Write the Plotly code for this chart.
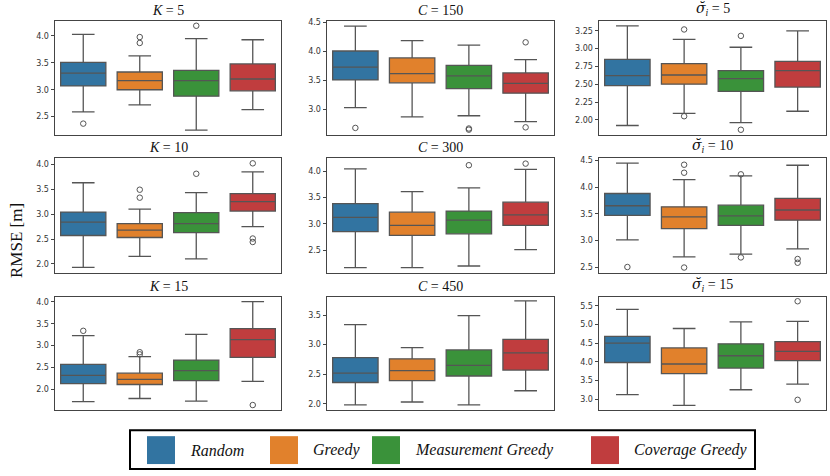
import plotly.graph_objects as go

W, H = 830, 476

METHODS = ["Random", "Greedy", "Measurement Greedy", "Coverage Greedy"]
COLORS = ["#3274a1", "#e1812c", "#3a923a", "#c03d3e"]

SIG = '<span style="font-family:DejaVu Serif"><i>σ\u0306</i></span><sub><i>i</i></sub>'
TITLES = ["<i>K</i> = 5", "<i>C</i> = 150", SIG + " = 5",
          "<i>K</i> = 10", "<i>C</i> = 300", SIG + " = 10",
          "<i>K</i> = 15", "<i>C</i> = 450", SIG + " = 15"]

# per panel (row-major), per method
LOWER = [[2.59, 2.72, 2.25, 2.63], [3.03, 2.87, 2.89, 2.79], [1.92, 2.09, 1.96, 2.12],
         [1.93, 2.15, 2.10, 2.75], [2.17, 2.17, 2.20, 2.51], [3.01, 2.69, 2.74, 2.84],
         [1.72, 1.79, 1.73, 2.18], [1.98, 2.03, 1.98, 2.22], [3.12, 2.83, 3.25, 3.40]]
Q1 = [[3.07, 3.00, 2.88, 2.98], [3.51, 3.46, 3.36, 3.28], [2.48, 2.50, 2.40, 2.46],
      [2.57, 2.53, 2.63, 3.06], [2.85, 2.78, 2.81, 2.97], [3.47, 3.22, 3.28, 3.38],
      [2.13, 2.11, 2.20, 2.73], [2.36, 2.39, 2.47, 2.57], [3.98, 3.68, 3.83, 4.03]]
MEDIAN = [[3.31, 3.17, 3.17, 3.20], [3.73, 3.62, 3.58, 3.45], [2.62, 2.63, 2.58, 2.69],
          [2.84, 2.68, 2.81, 3.25], [3.12, 2.97, 3.07, 3.17], [3.65, 3.44, 3.46, 3.57],
          [2.32, 2.23, 2.43, 3.14], [2.52, 2.56, 2.65, 2.86], [4.50, 3.94, 4.16, 4.28]]
Q3 = [[3.51, 3.33, 3.36, 3.48], [4.01, 3.89, 3.76, 3.63], [2.85, 2.79, 2.69, 2.82],
      [3.04, 2.81, 3.03, 3.41], [3.38, 3.22, 3.24, 3.41], [3.88, 3.63, 3.66, 3.79],
      [2.57, 2.37, 2.67, 3.39], [2.78, 2.76, 2.91, 3.09], [4.68, 4.37, 4.48, 4.54]]
UPPER = [[4.03, 3.63, 3.95, 3.93], [4.44, 4.19, 4.11, 3.86], [3.32, 3.13, 3.02, 3.25],
         [3.63, 3.10, 3.43, 3.85], [4.04, 3.61, 3.68, 4.03], [4.45, 4.14, 4.21, 4.41],
         [3.23, 2.75, 3.26, 4.01], [3.34, 2.95, 3.49, 3.74], [5.40, 4.89, 5.07, 5.08]]
OUTLIERS = [[[2.37], [3.98, 3.87], [4.19], []],
            [[2.68], [], [2.67, 2.65], [4.16, 2.69]],
            [[], [3.27, 2.05], [3.18, 1.86], []],
            [[], [3.49, 3.33], [3.81], [4.02, 2.51, 2.44]],
            [[], [], [4.11], [4.14]],
            [[2.50], [4.42, 4.27, 2.49], [4.24, 2.68], [2.65, 2.58]],
            [[3.34], [2.85, 2.80], [], [1.64]],
            [[], [], [], []],
            [[], [], [], [5.62, 2.98]]]

Y_RANGES = [[2.15, 4.28], [2.55, 4.53], [1.78, 3.39],
            [1.82, 4.12], [2.07, 4.24], [2.39, 4.54],
            [1.52, 4.12], [1.89, 3.81], [2.70, 5.74]]
Y_DTICK = [0.5, 0.5, 0.25, 0.5, 0.5, 0.5, 0.5, 0.5, 0.5]
Y_FMT = [".1f", ".1f", ".2f", ".1f", ".1f", ".1f", ".1f", ".1f", ".1f"]

COL_PX = [(55, 281), (327, 554), (599, 826)]
ROW_PX = [(19, 134), (157, 272), (296, 410)]

LINE = "#555555"
SERIF = "Liberation Serif, DejaVu Serif, serif"

fig = go.Figure()
layout = dict(width=W, height=H, margin=dict(l=0, r=0, t=0, b=0),
              paper_bgcolor="white", plot_bgcolor="white", showlegend=False,
              boxmode="overlay", annotations=[], shapes=[])

for p in range(9):
    r, c = divmod(p, 3)
    idx = "" if p == 0 else str(p + 1)
    xa, ya = "x" + idx, "y" + idx
    for m in range(4):
        fig.add_trace(go.Box(
            x=[m], q1=[Q1[p][m]], median=[MEDIAN[p][m]], q3=[Q3[p][m]],
            lowerfence=[LOWER[p][m]], upperfence=[UPPER[p][m]],
            width=0.8, whiskerwidth=0.5, boxpoints=False,
            fillcolor=COLORS[m], line=dict(color=LINE, width=1.3),
            xaxis=xa, yaxis=ya, name=METHODS[m], hoverinfo="y"))
        if OUTLIERS[p][m]:
            fig.add_trace(go.Scatter(
                x=[m] * len(OUTLIERS[p][m]), y=OUTLIERS[p][m], mode="markers",
                marker=dict(symbol="circle-open", size=5.5, color=LINE,
                            line=dict(width=1, color=LINE)),
                xaxis=xa, yaxis=ya, hoverinfo="y"))
    x0, x1 = COL_PX[c]
    y0, y1 = ROW_PX[r]
    layout["xaxis" + idx] = dict(domain=[x0 / W, x1 / W], range=[-0.5, 3.5],
                                 showticklabels=False, ticks="", showgrid=False,
                                 zeroline=False, showline=True, mirror=True,
                                 linecolor="#444444", linewidth=1, anchor=ya)
    layout["yaxis" + idx] = dict(domain=[1 - y1 / H, 1 - y0 / H], range=Y_RANGES[p],
                                 dtick=Y_DTICK[p], tick0=0, tickformat=Y_FMT[p],
                                 ticks="outside", ticklen=3.5, tickwidth=1,
                                 tickcolor="#444444", showgrid=False, zeroline=False,
                                 showline=True, mirror=True, linecolor="#444444",
                                 linewidth=1, anchor=xa,
                                 tickfont=dict(family="DejaVu Sans", size=8, color="#333333"))
    layout["annotations"].append(dict(
        text=TITLES[p], xref="paper", yref="paper", x=(x0 + x1) / 2 / W,
        y=1 - (y0 - 1) / H, xanchor="center", yanchor="bottom", showarrow=False,
        font=dict(family=SERIF, size=14, color="#111111")))

layout["annotations"].append(dict(
    text="RMSE [m]", xref="paper", yref="paper", x=17 / W, y=1 - 240 / H,
    textangle=-90, showarrow=False, xanchor="center", yanchor="middle",
    font=dict(family=SERIF, size=17, color="#111111")))

# legend box
layout["shapes"].append(dict(type="rect", xref="paper", yref="paper",
                             x0=130 / W, x1=755 / W, y0=1 - 469 / H, y1=1 - 430 / H,
                             line=dict(color="black", width=2), fillcolor="white"))
PATCH_X = [147, 270, 372, 591]
for m in range(4):
    px = PATCH_X[m]
    layout["shapes"].append(dict(type="rect", xref="paper", yref="paper",
                                 x0=px / W, x1=(px + 28) / W, y0=1 - 464 / H, y1=1 - 436 / H,
                                 line=dict(width=0), fillcolor=COLORS[m]))
    layout["annotations"].append(dict(
        text="<i>" + METHODS[m] + "</i>", xref="paper", yref="paper",
        x=(px + 41) / W, y=1 - 450 / H, xanchor="left", yanchor="middle",
        showarrow=False, font=dict(family=SERIF, size=16, color="#111111")))

fig.update_layout(**layout)
fig.write_html("out.html", config={"displayModeBar": False},
               post_script="document.body.style.margin='0';document.body.style.overflow='hidden';")
